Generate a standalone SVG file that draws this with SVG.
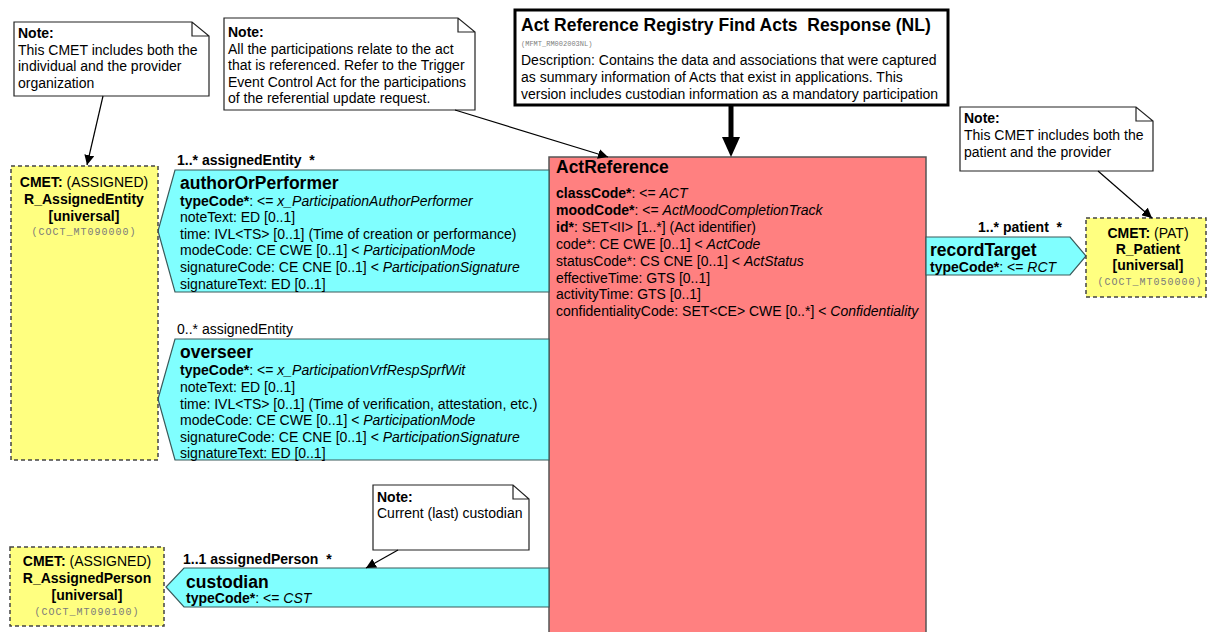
<svg xmlns="http://www.w3.org/2000/svg" width="1208" height="632" viewBox="0 0 1208 632">
<style>
text{font-family:"Liberation Sans",Arial,sans-serif;font-size:14px;fill:#000}
.b{font-weight:bold}
.i{font-style:italic}
.t{font-size:17.5px;font-weight:bold}
.mono{font-family:"Liberation Mono","Courier New",monospace;font-size:10px;fill:#7a7a7a;letter-spacing:1px}
.note{fill:#fff;stroke:#222;stroke-width:1.2}
.cmet{fill:#ffff80;stroke:#444;stroke-width:1.5;stroke-dasharray:4 3}
.part{fill:#80ffff;stroke:#3a5a5a;stroke-width:1.2}
.act{fill:#ff8080;stroke:#555;stroke-width:1.5}
.conn{stroke:#000;stroke-width:1.2;fill:none}
.c{text-anchor:middle}
</style>
<defs>
<marker id="ah" viewBox="0 0 10 10" refX="10" refY="5" markerWidth="10" markerHeight="10" markerUnits="userSpaceOnUse" orient="auto">
<path d="M0,0 L10,5 L0,10 Z" fill="#000"/>
</marker>
</defs>

<g id="actReference">
<rect class="act" x="549" y="157" width="377" height="490"/>
<text class="t" x="556" y="173">ActReference</text>
<text x="556" y="198"><tspan class="b">classCode*</tspan>: &lt;= <tspan class="i">ACT</tspan></text>
<text x="556" y="215"><tspan class="b">moodCode*</tspan>: &lt;= <tspan class="i">ActMoodCompletionTrack</tspan></text>
<text x="556" y="232"><tspan class="b">id*</tspan>: SET&lt;II&gt; [1..*] (Act identifier)</text>
<text x="556" y="249">code*: CE CWE [0..1] &lt; <tspan class="i">ActCode</tspan></text>
<text x="556" y="266">statusCode*: CS CNE [0..1] &lt; <tspan class="i">ActStatus</tspan></text>
<text x="556" y="283">effectiveTime: GTS [0..1]</text>
<text x="556" y="299">activityTime: GTS [0..1]</text>
<text x="556" y="316">confidentialityCode: SET&lt;CE&gt; CWE [0..*] &lt; <tspan class="i">Confidentiality</tspan></text>
</g>

<g id="authorOrPerformer">
<polygon class="part" points="549,170 175,170 158,231 175,292 549,292"/>
<text class="b" x="177" y="165" xml:space="preserve">1..* assignedEntity  *</text>
<text class="t" x="180" y="189">authorOrPerformer</text>
<text x="180" y="205.5"><tspan class="b">typeCode*</tspan>: &lt;= <tspan class="i">x_ParticipationAuthorPerformer</tspan></text>
<text x="180" y="222">noteText: ED [0..1]</text>
<text x="180" y="238.5">time: IVL&lt;TS&gt; [0..1] (Time of creation or performance)</text>
<text x="180" y="255">modeCode: CE CWE [0..1] &lt; <tspan class="i">ParticipationMode</tspan></text>
<text x="180" y="272">signatureCode: CE CNE [0..1] &lt; <tspan class="i">ParticipationSignature</tspan></text>
<text x="180" y="289">signatureText: ED [0..1]</text>
</g>

<g id="overseer">
<polygon class="part" points="549,339 175,339 158,399 175,460 549,460"/>
<text x="177" y="334">0..* assignedEntity</text>
<text class="t" x="180" y="358">overseer</text>
<text x="180" y="375"><tspan class="b">typeCode*</tspan>: &lt;= <tspan class="i">x_ParticipationVrfRespSprfWit</tspan></text>
<text x="180" y="392">noteText: ED [0..1]</text>
<text x="180" y="409">time: IVL&lt;TS&gt; [0..1] (Time of verification, attestation, etc.)</text>
<text x="180" y="425">modeCode: CE CWE [0..1] &lt; <tspan class="i">ParticipationMode</tspan></text>
<text x="180" y="442">signatureCode: CE CNE [0..1] &lt; <tspan class="i">ParticipationSignature</tspan></text>
<text x="180" y="458">signatureText: ED [0..1]</text>
</g>

<g id="custodian">
<polygon class="part" points="549,568 184,568 166,587 184,607 549,607"/>
<text class="b" x="183" y="564" xml:space="preserve">1..1 assignedPerson  *</text>
<text class="t" x="186" y="588">custodian</text>
<text x="186" y="603"><tspan class="b">typeCode*</tspan>: &lt;= <tspan class="i">CST</tspan></text>
</g>

<g id="recordTarget">
<polygon class="part" points="926,237 1070,237 1086,256 1070,275 926,275"/>
<text class="b" x="978" y="232" xml:space="preserve">1..* patient  *</text>
<text class="t" x="930" y="256">recordTarget</text>
<text x="930" y="272"><tspan class="b">typeCode*</tspan>: &lt;= <tspan class="i">RCT</tspan></text>
</g>

<g id="cmetAssignedEntity">
<rect class="cmet" x="11" y="166" width="147" height="294"/>
<text class="c" x="84" y="187"><tspan class="b">CMET:</tspan> (ASSIGNED)</text>
<text class="c b" x="84" y="204">R_AssignedEntity</text>
<text class="c b" x="84" y="221">[universal]</text>
<text class="c mono" x="84" y="235">(COCT_MT090000)</text>
</g>

<g id="cmetPatient">
<rect class="cmet" x="1086" y="218" width="120" height="79"/>
<text class="c" x="1148" y="238"><tspan class="b">CMET:</tspan> (PAT)</text>
<text class="c b" x="1148" y="254">R_Patient</text>
<text class="c b" x="1148" y="270">[universal]</text>
<text class="c mono" x="1150" y="285">(COCT_MT050000)</text>
</g>

<g id="cmetAssignedPerson">
<rect class="cmet" x="10" y="547" width="154" height="79"/>
<text class="c" x="87" y="566"><tspan class="b">CMET:</tspan> (ASSIGNED)</text>
<text class="c b" x="87" y="583">R_AssignedPerson</text>
<text class="c b" x="87" y="600">[universal]</text>
<text class="c mono" x="87" y="615">(COCT_MT090100)</text>
</g>

<g id="header">
<rect x="515" y="10" width="433" height="95" fill="#fff" stroke="#000" stroke-width="3"/>
<text class="t" x="521" y="31" xml:space="preserve">Act Reference Registry Find Acts  Response (NL)</text>
<text x="521" y="46" style="font-family:'Liberation Mono',monospace;font-size:7px;fill:#808080">(MFMT_RM002003NL)</text>
<text x="521" y="65">Description: Contains the data and associations that were captured</text>
<text x="521" y="82">as summary information of Acts that exist in applications. This</text>
<text x="521" y="99">version includes custodian information as a mandatory participation</text>
</g>

<g id="note1">
<path class="note" d="M14,22 H192 L209,36 V96 H14 Z M192,22 V36 H209"/>
<text class="b" x="18" y="38">Note:</text>
<text x="18" y="54.5">This CMET includes both the</text>
<text x="18" y="71">individual and the provider</text>
<text x="18" y="88">organization</text>
</g>

<g id="note2">
<path class="note" d="M224,18 H458 L475,32 V110 H224 Z M458,18 V32 H475"/>
<text class="b" x="228" y="37">Note:</text>
<text x="228" y="53.5">All the participations relate to the act</text>
<text x="228" y="70">that is referenced. Refer to the Trigger</text>
<text x="228" y="86.5">Event Control Act for the participations</text>
<text x="228" y="103">of the referential update request.</text>
</g>

<g id="note3">
<path class="note" d="M960,107 H1136 L1153,121 V171 H960 Z M1136,107 V121 H1153"/>
<text class="b" x="964" y="123">Note:</text>
<text x="964" y="140">This CMET includes both the</text>
<text x="964" y="157">patient and the provider</text>
</g>

<g id="note4">
<path class="note" d="M373,485 H513 L529,499 V550 H373 Z M513,485 V499 H529"/>
<text class="b" x="377" y="502">Note:</text>
<text x="377" y="518">Current (last) custodian</text>
</g>

<g id="connectors">
<line class="conn" x1="103" y1="96" x2="87" y2="165" marker-end="url(#ah)"/>
<line class="conn" x1="455" y1="110" x2="608" y2="157" marker-end="url(#ah)"/>
<line class="conn" x1="1098" y1="171" x2="1152" y2="218" marker-end="url(#ah)"/>
<line class="conn" x1="398" y1="550" x2="366" y2="568" marker-end="url(#ah)"/>
<line x1="731" y1="105" x2="731" y2="140" stroke="#000" stroke-width="5"/>
<polygon points="722,137 740,137 731,157" fill="#000"/>
</g>
</svg>
